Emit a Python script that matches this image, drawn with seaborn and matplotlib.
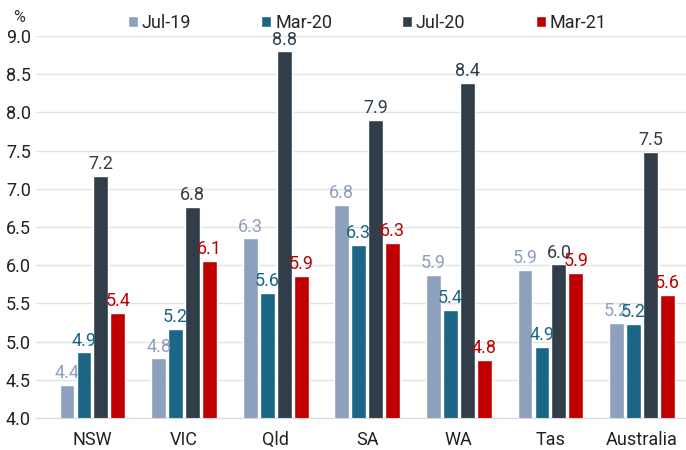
import numpy as np
import pandas as pd
import matplotlib.pyplot as plt
import seaborn as sns

states = ["NSW", "VIC", "Qld", "SA", "WA", "Tas", "Australia"]
periods = ["Jul-19", "Mar-20", "Jul-20", "Mar-21"]
jul19 = [4.43, 4.78, 6.35, 6.79, 5.87, 5.94, 5.25]
mar20 = [4.86, 5.17, 5.64, 6.27, 5.42, 4.93, 5.23]
jul20 = [7.17, 6.76, 8.80, 7.90, 8.39, 6.01, 7.48]
mar21 = [5.38, 6.06, 5.86, 6.29, 4.76, 5.90, 5.61]
colors = ["#8DA0BD", "#1B6687", "#313D48", "#C00000"]

df = pd.DataFrame({
    "state": states * 4,
    "period": np.repeat(periods, len(states)),
    "value": jul19 + mar20 + jul20 + mar21,
})

sns.set_style("white")
plt.rcParams["font.family"] = ["Roboto", "DejaVu Sans"]

fig = plt.figure(figsize=(6.86, 4.5), dpi=100)
ax = fig.add_axes([0.052, 0.071, 0.948, 0.849])

sns.barplot(data=df, x="state", y="value", hue="period", palette=colors,
            saturation=1, width=0.74, gap=0.12, ax=ax, legend=True)

for cont, c in zip(ax.containers, colors):
    ax.bar_label(cont, fmt="%.1f", color=c, fontsize=13, padding=2)

ax.set_ylim(4.0, 9.0)
ax.set_yticks(np.arange(4.0, 9.01, 0.5))
ax.set_yticklabels([f"{v:.1f}" for v in np.arange(4.0, 9.01, 0.5)])
ax.set_xlim(-0.62, 6.48)
ax.yaxis.grid(True, color="#E3E3E3", linewidth=1)
ax.set_axisbelow(True)
for s in ["top", "right", "left"]:
    ax.spines[s].set_visible(False)
ax.spines["bottom"].set_color("#D9D9D9")
ax.tick_params(axis="both", length=0, labelsize=13, colors="#222222")
ax.tick_params(axis="x", pad=9)
ax.set_xlabel("")
ax.set_ylabel("")

fig.text(0.028, 0.962, "%", ha="center", va="center", fontsize=11.5, color="#333333")

handles, labels = ax.get_legend_handles_labels()
ax.legend(handles, labels, loc="upper left", bbox_to_anchor=(0.117, 1.10),
          ncol=4, frameon=False, fontsize=13, handlelength=0.55, handleheight=0.55,
          handletextpad=0.2, columnspacing=3.9)

fig.savefig("out.png", dpi=100)
